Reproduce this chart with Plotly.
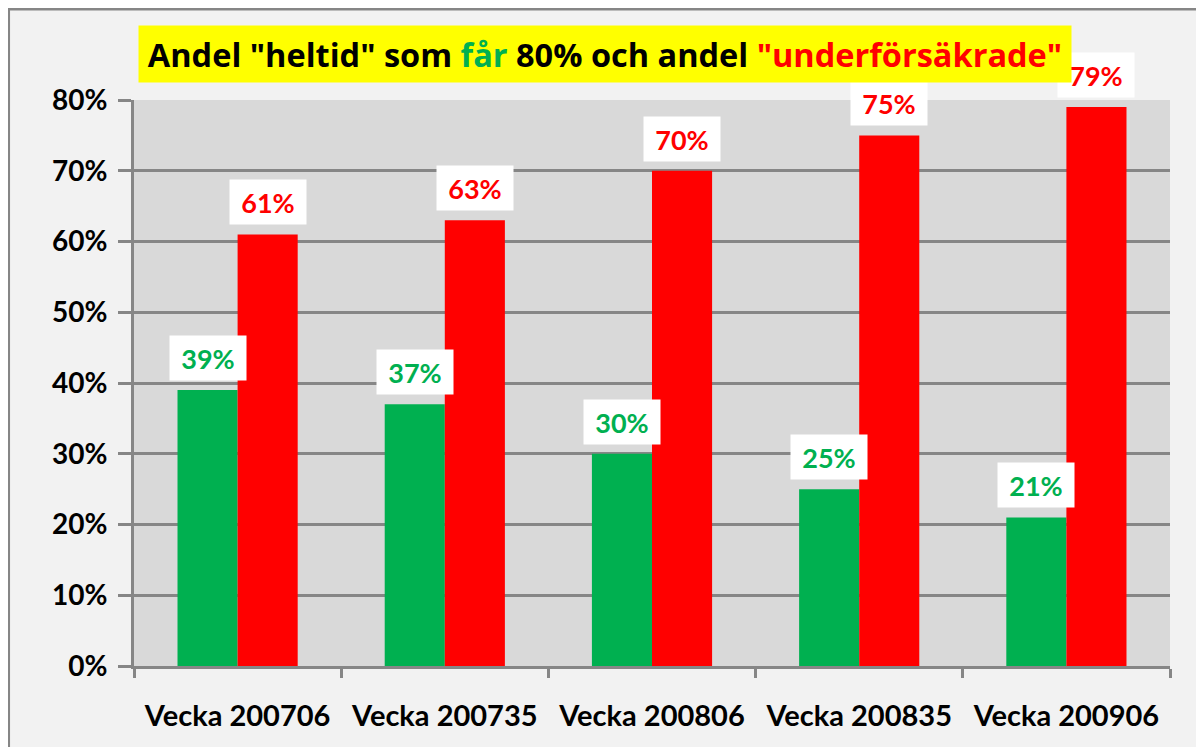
import plotly.graph_objects as go

categories = ["Vecka 200706", "Vecka 200735", "Vecka 200806", "Vecka 200835", "Vecka 200906"]
heltid_80 = [0.39, 0.37, 0.30, 0.25, 0.21]
underforsakrade = [0.61, 0.63, 0.70, 0.75, 0.79]
y_ticks = [0, 0.1, 0.2, 0.3, 0.4, 0.5, 0.6, 0.7, 0.8]
y_tick_labels = ["0%", "10%", "20%", "30%", "40%", "50%", "60%", "70%", "80%"]

GREEN = "#00b050"
RED = "#ff0000"
FONT = "Lato"

fig = go.Figure()
fig.add_trace(go.Bar(x=categories, y=heltid_80, marker=dict(color=GREEN, line=dict(width=0)), name="heltid 80%"))
fig.add_trace(go.Bar(x=categories, y=underforsakrade, marker=dict(color=RED, line=dict(width=0)), name="underförsäkrade"))

annotations = []
for c, g, r in zip(categories, heltid_80, underforsakrade):
    annotations.append(dict(x=c, y=g, xref="x", yref="y", text=f"{round(g*100)}%", showarrow=False,
                            xshift=-30, yshift=32, bgcolor="white", borderpad=0, width=76, height=44,
                            font=dict(family=FONT, size=27, color=GREEN, weight="bold")))
    annotations.append(dict(x=c, y=r, xref="x", yref="y", text=f"{round(r*100)}%", showarrow=False,
                            xshift=30, yshift=32, bgcolor="white", borderpad=0, width=76, height=44,
                            font=dict(family=FONT, size=27, color=RED, weight="bold")))

annotations.append(dict(
    x=0.0, y=1.0, xref="paper", yref="paper", xanchor="left", yanchor="bottom",
    xshift=4, yshift=17, showarrow=False, bgcolor="#ffff00", borderpad=0, width=932, height=56,
    text='Andel "heltid" som <span style="color:#00b050">får</span> 80% och andel <span style="color:#ff0000">"underförsäkrade"</span>',
    font=dict(family="Open Sans", size=32.5, color="black", weight="bold")))

fig.update_layout(
    width=1196, height=739,
    margin=dict(l=126, r=34, t=92, b=81, autoexpand=False),
    paper_bgcolor="#f2f2f2",
    plot_bgcolor="#d9d9d9",
    barmode="group",
    bargap=0.42,
    bargroupgap=0,
    showlegend=False,
    annotations=annotations,
    font=dict(family=FONT, color="black"),
    shapes=[dict(type="rect", xref="paper", yref="paper", x0=-0.1211, x1=1.2, y0=-0.4, y1=1.1608,
                 line=dict(color="#868686", width=3), fillcolor="rgba(0,0,0,0)", layer="below")],
)
fig.update_xaxes(
    automargin=False,
    tickson="boundaries", ticks="outside", ticklen=9, tickwidth=3, tickcolor="#868686",
    showline=True, linecolor="#868686", linewidth=3,
    tickfont=dict(family=FONT, size=29, color="black", weight="bold"),
    ticklabelstandoff=22,
)
fig.update_yaxes(
    automargin=False,
    range=[0, 0.8], tickvals=y_ticks, ticktext=y_tick_labels,
    ticks="outside", ticklen=13, tickwidth=3, tickcolor="#868686",
    showline=True, linecolor="#868686", linewidth=3,
    showgrid=True, gridcolor="#868686", gridwidth=3,
    zeroline=False,
    tickfont=dict(family=FONT, size=28, color="black", weight="bold"),
    ticklabelstandoff=5,
)

fig.write_html("out.html")
